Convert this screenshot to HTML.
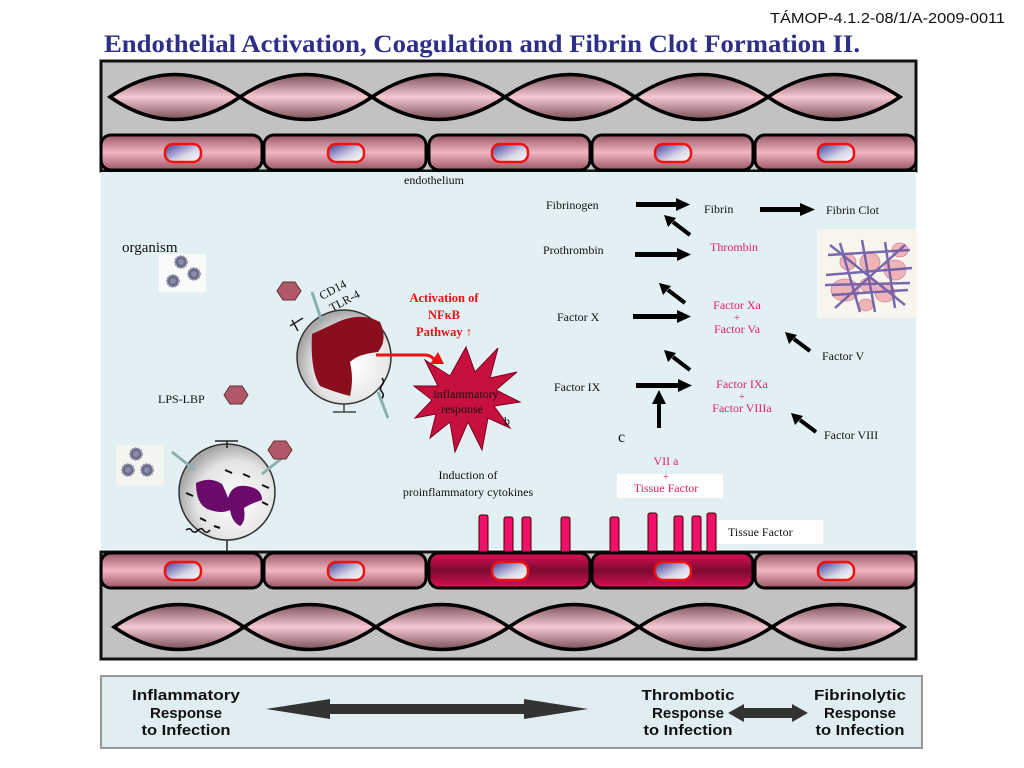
<!DOCTYPE html>
<html><head><meta charset="utf-8"><style>
html,body{margin:0;padding:0;background:#fff;width:1024px;height:768px;overflow:hidden}
svg{display:block}
.s{font-family:"Liberation Serif",serif;font-size:12px;fill:#111}
.p{font-family:"Liberation Serif",serif;font-size:12px;fill:#e0206a}
.b{font-family:"Liberation Sans",sans-serif;font-weight:bold;font-size:15px;fill:#111}
</style></head><body>
<svg width="1024" height="768" viewBox="0 0 1024 768">
<defs>
<linearGradient id="lens" x1="0" y1="0" x2="0" y2="1">
<stop offset="0" stop-color="#7a5058"/><stop offset="0.5" stop-color="#f6c8d1"/><stop offset="1" stop-color="#7a5058"/></linearGradient>
<linearGradient id="cell" x1="0" y1="0" x2="0" y2="1">
<stop offset="0" stop-color="#9a5563"/><stop offset="0.5" stop-color="#f0b6c2"/><stop offset="1" stop-color="#9a5563"/></linearGradient>
<linearGradient id="rcell" x1="0" y1="0" x2="0" y2="1">
<stop offset="0" stop-color="#e0105a"/><stop offset="0.5" stop-color="#7a0a30"/><stop offset="1" stop-color="#e0105a"/></linearGradient>
<linearGradient id="nuc" x1="0" y1="0" x2="1" y2="1">
<stop offset="0" stop-color="#3a3a9a"/><stop offset="0.6" stop-color="#d8d8e8"/><stop offset="1" stop-color="#ffffff"/></linearGradient>
<radialGradient id="wc" cx="0.6" cy="0.6" r="0.6">
<stop offset="0" stop-color="#ffffff"/><stop offset="0.7" stop-color="#e4e4e4"/><stop offset="1" stop-color="#a8a8a8"/></radialGradient>
<g id="lensrow">
<path d="M110,0 Q175,-45 240,0 Q175,45 110,0Z M240,0 Q306,-45 372,0 Q306,45 240,0Z M372,0 Q438,-45 505,0 Q438,45 372,0Z M505,0 Q570,-45 635,0 Q570,45 505,0Z M635,0 Q701,-45 768,0 Q701,45 635,0Z M768,0 Q834,-45 900,0 Q834,45 768,0Z" fill="url(#lens)" stroke="#000" stroke-width="3.5"/>
</g>
<g id="vir"><circle r="6" fill="#6a6a8a" stroke="#9a9ab0" stroke-width="2" stroke-dasharray="1.5 1.5"/><circle r="3" fill="#8a8aa8"/></g>
<g id="hex"><polygon points="-6,-9 6,-9 12,0 6,9 -6,9 -12,0" fill="#b05868" stroke="#603038" stroke-width="1"/></g>
</defs>

<text x="1005" y="23" text-anchor="end" font-family="Liberation Sans,sans-serif" font-size="15" fill="#111" textLength="235" lengthAdjust="spacingAndGlyphs">TÁMOP-4.1.2-08/1/A-2009-0011</text>
<text x="104" y="52" font-family="Liberation Serif,serif" font-weight="bold" font-size="25" fill="#2e2e88" textLength="756" lengthAdjust="spacingAndGlyphs">Endothelial Activation,  Coagulation and Fibrin Clot Formation II.</text>

<!-- top vessel -->
<rect x="101" y="61" width="815" height="110" fill="#c2c2c2" stroke="#111" stroke-width="3"/>
<use href="#lensrow" transform="translate(0,97)"/>
<g stroke="#000" stroke-width="3">
<rect x="101" y="135" width="161" height="35" rx="10" fill="url(#cell)"/>
<rect x="264" y="135" width="162" height="35" rx="10" fill="url(#cell)"/>
<rect x="429" y="135" width="161" height="35" rx="10" fill="url(#cell)"/>
<rect x="592" y="135" width="161" height="35" rx="10" fill="url(#cell)"/>
<rect x="755" y="135" width="161" height="35" rx="10" fill="url(#cell)"/>
</g>
<g fill="url(#nuc)" stroke="#f01010" stroke-width="2.5">
<rect x="165" y="144" width="36" height="18" rx="8"/><rect x="328" y="144" width="36" height="18" rx="8"/>
<rect x="492" y="144" width="36" height="18" rx="8"/><rect x="655" y="144" width="36" height="18" rx="8"/>
<rect x="818" y="144" width="36" height="18" rx="8"/>
</g>

<!-- blue middle -->
<rect x="101" y="172" width="815" height="377" fill="#e3f0f3"/>
<text x="404" y="184" class="s">endothelium</text>

<!-- organism -->
<rect x="159" y="254" width="47" height="38" fill="#fafafa"/>
<text x="122" y="252" font-family="Liberation Serif,serif" font-size="15" fill="#111">organism</text>
<use href="#vir" x="181" y="262"/><use href="#vir" x="194" y="274"/><use href="#vir" x="173" y="281"/>
<rect x="116" y="445" width="48" height="40" fill="#f4f4f0"/>
<use href="#vir" x="136" y="454"/><use href="#vir" x="128" y="470"/><use href="#vir" x="147" y="470"/>

<text x="158" y="403" class="s">LPS-LBP</text>
<use href="#hex" x="236" y="395"/>
<use href="#hex" x="289" y="291"/>

<!-- macrophage -->
<text x="322" y="300" class="s" font-size="13" transform="rotate(-28 322 300)">CD14</text>
<text x="332" y="312" class="s" font-size="13" transform="rotate(-28 332 312)">TLR-4</text>
<circle cx="344" cy="357" r="47" fill="url(#wc)" stroke="#333" stroke-width="1.5"/>
<path d="M312,334 L340,321 Q362,312 380,322 Q388,340 378,352 Q358,354 350,362 Q354,380 350,396 Q334,392 320,386 Q310,370 312,334Z" fill="#8a0e1e"/>
<path d="M382,378 q3,4 0,7 q-3,4 0,7 q3,4 -1,7" fill="none" stroke="#111" stroke-width="1.5"/>
<line x1="303" y1="318" x2="290" y2="326" stroke="#222" stroke-width="1.5"/><line x1="292" y1="320" x2="298" y2="331" stroke="#222" stroke-width="1.5"/>
<line x1="344" y1="404" x2="344" y2="412" stroke="#444" stroke-width="1.5"/><line x1="333" y1="412" x2="356" y2="412" stroke="#444" stroke-width="1.5"/>
<line x1="312" y1="292" x2="322" y2="322" stroke="#8ab0b0" stroke-width="3"/>
<line x1="378" y1="392" x2="388" y2="418" stroke="#8ab0b0" stroke-width="3"/>
<path d="M376,355 L425,355 Q432,355 436,362" fill="none" stroke="#ee1111" stroke-width="3"/>
<polygon points="430,364 444,364 438,352" fill="#ee1111"/>
<g font-family="Liberation Serif,serif" font-weight="bold" font-size="12.5" fill="#ee1111" text-anchor="middle">
<text x="444" y="302">Activation of</text><text x="444" y="319">NFκB</text><text x="444" y="336">Pathway ↑</text></g>

<!-- starburst -->
<polygon points="466,347 475,372 498,348 490,378 517,372 496,390 520,402 494,406 510,428 488,418 482,450 468,422 455,452 450,422 430,438 436,414 415,418 432,400 414,386 438,386 425,360 450,376" fill="#c8103e" stroke="#7a0020" stroke-width="1"/>
<text x="466" y="398" text-anchor="middle" class="s" font-size="13">inflammatory</text>
<text x="462" y="413" text-anchor="middle" class="s" font-size="13">response</text>
<text x="504" y="425" class="s" font-size="14">b</text>

<text x="468" y="479" text-anchor="middle" class="s">Induction of</text>
<text x="468" y="496" text-anchor="middle" class="s">proinflammatory cytokines</text>

<!-- neutrophil -->
<circle cx="227" cy="492" r="48" fill="url(#wc)" stroke="#333" stroke-width="1.5"/>
<path d="M196,483 Q210,476 222,484 Q226,492 228,498 Q232,484 246,486 Q262,488 262,500 Q250,504 244,508 Q246,522 240,526 Q232,522 230,510 Q222,514 210,510 Q196,506 196,483Z" fill="#6a0a6a"/>
<g stroke="#111" stroke-width="2">
<line x1="225" y1="470" x2="232" y2="473"/><line x1="243" y1="474" x2="250" y2="477"/><line x1="186" y1="493" x2="193" y2="496"/>
<line x1="262" y1="485" x2="269" y2="488"/><line x1="262" y1="502" x2="268" y2="505"/><line x1="200" y1="518" x2="206" y2="521"/><line x1="214" y1="526" x2="220" y2="528"/></g>
<path d="M186,530 q4,-3 6,1 q3,3 6,-1 q4,-3 6,1 q3,3 6,-1" fill="none" stroke="#111" stroke-width="1.5"/>
<line x1="227" y1="441" x2="227" y2="448" stroke="#222" stroke-width="1.5"/><line x1="215" y1="441" x2="238" y2="441" stroke="#222" stroke-width="1.5"/>
<line x1="227" y1="540" x2="227" y2="552" stroke="#222" stroke-width="1.5"/>
<line x1="172" y1="452" x2="195" y2="470" stroke="#8ab0b0" stroke-width="3"/>
<line x1="262" y1="474" x2="286" y2="455" stroke="#8ab0b0" stroke-width="3"/>
<use href="#hex" x="280" y="450"/>

<!-- coagulation -->
<g class="s">
<text x="546" y="209">Fibrinogen</text><text x="704" y="213">Fibrin</text><text x="826" y="214">Fibrin Clot</text>
<text x="543" y="254">Prothrombin</text>
<text x="557" y="321">Factor X</text>
<text x="822" y="360">Factor V</text>
<text x="554" y="391">Factor IX</text>
<text x="824" y="439">Factor VIII</text>
</g>
<text x="618" y="442" font-family="Liberation Serif,serif" font-size="16" fill="#111">c</text>
<g class="p" text-anchor="middle">
<text x="734" y="251">Thrombin</text>
<text x="737" y="309">Factor Xa</text><text x="737" y="321" font-size="10">+</text><text x="737" y="333">Factor Va</text>
<text x="742" y="388">Factor IXa</text><text x="742" y="400" font-size="10">+</text><text x="742" y="412">Factor VIIIa</text>
</g>
<rect x="617" y="474" width="106" height="24" fill="#fff"/>
<g class="p" text-anchor="middle">
<text x="666" y="465">VII a</text><text x="666" y="480" font-size="10">+</text><text x="666" y="492">Tissue Factor</text></g>

<g fill="#000">
<rect x="636" y="202" width="42" height="5"/><polygon points="676,198 690,204.5 676,211"/>
<rect x="760" y="207" width="42" height="5"/><polygon points="800,203 815,209.5 800,216"/>
<rect x="635" y="252" width="44" height="5"/><polygon points="677,248 691,254.5 677,261"/>
<rect x="633" y="314" width="46" height="5"/><polygon points="677,310 691,316.5 677,323"/>
<rect x="636" y="383" width="44" height="5"/><polygon points="678,379 692,385.5 678,392"/>
<rect x="657" y="402" width="4" height="26"/><polygon points="652,404 659,390 666,404"/>
</g>
<g stroke="#000" stroke-width="4" fill="none">
<line x1="690" y1="235" x2="673" y2="222"/><line x1="685" y1="303" x2="668" y2="290"/>
<line x1="690" y1="370" x2="673" y2="357"/><line x1="810" y1="351" x2="794" y2="339"/>
<line x1="816" y1="432" x2="800" y2="420"/></g>
<g fill="#000">
<polygon points="664,215 676,218 668,227"/><polygon points="659,283 671,286 663,295"/>
<polygon points="664,350 676,353 668,362"/><polygon points="785,332 797,335 789,344"/>
<polygon points="791,413 803,416 795,425"/></g>

<!-- clot -->
<rect x="817" y="229" width="100" height="89" fill="#f8f5ef"/>
<g fill="#f0b4b8" stroke="#c88c98" stroke-width="0.8">
<ellipse cx="845" cy="290" rx="14" ry="11"/><ellipse cx="870" cy="262" rx="10" ry="9"/><ellipse cx="895" cy="270" rx="11" ry="10"/>
<ellipse cx="885" cy="293" rx="10" ry="9"/><ellipse cx="848" cy="262" rx="8" ry="8"/><ellipse cx="868" cy="285" rx="8" ry="7"/>
<ellipse cx="900" cy="250" rx="8" ry="7"/><ellipse cx="866" cy="305" rx="7" ry="6"/></g>
<g stroke="#6a5aa8" stroke-width="2.5" opacity="0.9">
<line x1="828" y1="255" x2="910" y2="250"/><line x1="826" y1="275" x2="912" y2="268"/><line x1="832" y1="295" x2="908" y2="290"/>
<line x1="840" y1="243" x2="860" y2="312"/><line x1="862" y1="240" x2="875" y2="312"/><line x1="885" y1="242" x2="895" y2="308"/>
<line x1="830" y1="245" x2="905" y2="305"/><line x1="905" y1="245" x2="835" y2="308"/><line x1="825" y1="285" x2="910" y2="283"/></g>

<!-- tissue factor label -->
<rect x="718" y="520" width="105" height="24" fill="#fff"/>
<text x="728" y="536" class="s">Tissue Factor</text>

<!-- bottom vessel -->
<rect x="101" y="552" width="815" height="107" fill="#c2c2c2" stroke="#111" stroke-width="3"/>
<use href="#lensrow" transform="translate(4,627)"/>
<g fill="#f0106a" stroke="#400" stroke-width="1">
<rect x="479" y="515" width="9" height="40" rx="2"/><rect x="504" y="517" width="9" height="38" rx="2"/><rect x="522" y="517" width="9" height="38" rx="2"/>
<rect x="561" y="517" width="9" height="38" rx="2"/><rect x="610" y="517" width="9" height="38" rx="2"/><rect x="648" y="513" width="9" height="42" rx="2"/>
<rect x="674" y="516" width="9" height="39" rx="2"/><rect x="692" y="516" width="9" height="39" rx="2"/><rect x="707" y="513" width="9" height="42" rx="2"/></g>
<g stroke="#000" stroke-width="3">
<rect x="101" y="553" width="161" height="35" rx="10" fill="url(#cell)"/>
<rect x="264" y="553" width="162" height="35" rx="10" fill="url(#cell)"/>
<rect x="429" y="553" width="161" height="35" rx="10" fill="url(#rcell)"/>
<rect x="592" y="553" width="161" height="35" rx="10" fill="url(#rcell)"/>
<rect x="755" y="553" width="161" height="35" rx="10" fill="url(#cell)"/>
</g>
<g fill="url(#nuc)" stroke="#f01010" stroke-width="2.5">
<rect x="165" y="562" width="36" height="18" rx="8"/><rect x="328" y="562" width="36" height="18" rx="8"/>
<rect x="492" y="562" width="36" height="18" rx="8"/><rect x="655" y="562" width="36" height="18" rx="8"/>
<rect x="818" y="562" width="36" height="18" rx="8"/>
</g>

<!-- bottom box -->
<rect x="101" y="676" width="821" height="72" fill="#e0eef2" stroke="#999" stroke-width="2"/>
<g class="b" text-anchor="middle" lengthAdjust="spacingAndGlyphs">
<text x="186" y="700" textLength="108" lengthAdjust="spacingAndGlyphs">Inflammatory</text><text x="186" y="718" textLength="72" lengthAdjust="spacingAndGlyphs">Response</text><text x="186" y="735" textLength="89" lengthAdjust="spacingAndGlyphs">to Infection</text>
<text x="688" y="700" textLength="93" lengthAdjust="spacingAndGlyphs">Thrombotic</text><text x="688" y="718" textLength="72" lengthAdjust="spacingAndGlyphs">Response</text><text x="688" y="735" textLength="89" lengthAdjust="spacingAndGlyphs">to Infection</text>
<text x="860" y="700" textLength="92" lengthAdjust="spacingAndGlyphs">Fibrinolytic</text><text x="860" y="718" textLength="72" lengthAdjust="spacingAndGlyphs">Response</text><text x="860" y="735" textLength="89" lengthAdjust="spacingAndGlyphs">to Infection</text></g>
<polygon points="266,709 330,699 330,704 524,704 524,699 588,709 524,719 524,714 330,714 330,719" fill="#333"/>
<polygon points="728,713 744,704 744,708 792,708 792,704 808,713 792,722 792,718 744,718 744,722" fill="#333"/>
</svg>
</body></html>
